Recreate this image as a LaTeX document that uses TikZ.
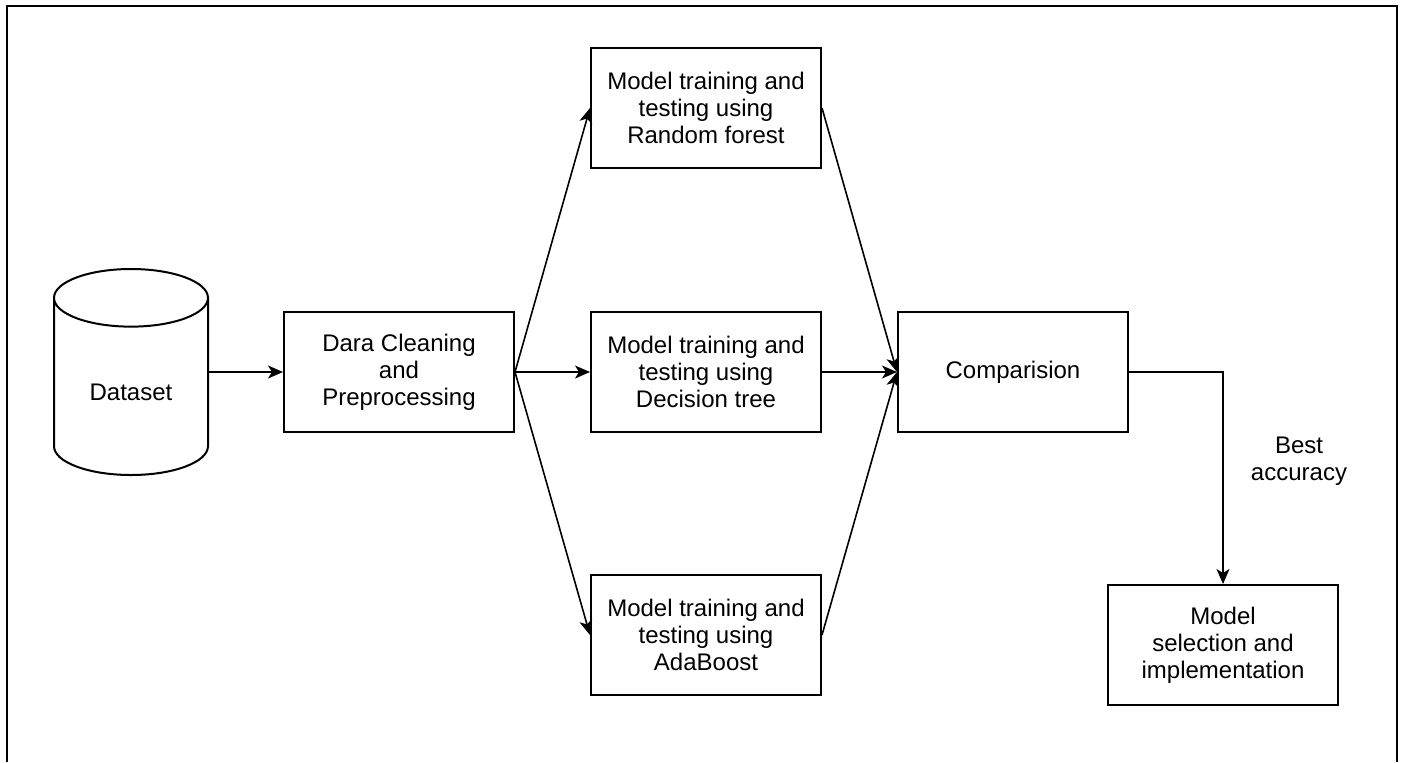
\documentclass[tikz,border=0pt]{standalone}
\usepackage{fontspec}
\setmainfont{Liberation Sans}
\usetikzlibrary{shapes.geometric, arrows.meta, positioning}

\tikzset{
  box/.style={rectangle, draw, line width=1pt, minimum width=115pt, minimum height=60pt, align=center, inner sep=2pt, font=\fontsize{12}{13.5}\selectfont},
  db/.style={cylinder, shape border rotate=90, draw, line width=1pt, aspect=0.6, minimum width=77pt, minimum height=103pt, font=\fontsize{12}{13.5}\selectfont},
  link/.style={-{Stealth[length=7.5pt, width=6.5pt, inset=2pt]}, line width=0.8pt}
}

\begin{document}
\begin{tikzpicture}[x=0.5pt, y=-0.5pt, node distance=37.5pt]
  \useasboundingbox (0,0) rectangle (1403,762);
  \draw[line width=1pt] (7,762) -- (7,6) -- (1397,6) -- (1397,762);

  \node[db, anchor=shape center] (dataset) at (131,372) {Dataset};
  \node[box] (prep) at (399,372) {Dara Cleaning\\and\\Preprocessing};
  \node[box, right=of prep] (dt) {Model training and\\testing using\\Decision tree};
  \node[box, above=71pt of dt] (rf) {Model training and\\testing using\\Random forest};
  \node[box, below=70.5pt of dt] (ada) {Model training and\\testing using\\AdaBoost};
  \node[box, right=of dt] (comp) {Comparision};
  \node[box] (sel) at (1223,645) {Model\\selection and\\implementation};

  \draw[link] (dataset.east |- prep.west) -- (prep.west);
  \draw[link] (prep.east) -- (rf.west);
  \draw[link] (prep.east) -- (dt.west);
  \draw[link] (prep.east) -- (ada.west);
  \draw[link] (rf.east) -- (comp.west);
  \draw[link] (dt.east) -- (comp.west);
  \draw[link] (ada.east) -- (comp.west);
  \draw[link] (comp.east) -| node[pos=0.71, xshift=38pt, align=center, font=\fontsize{12}{13.5}\selectfont] (best) {Best\\accuracy} (sel.north);
\end{tikzpicture}
\end{document}
